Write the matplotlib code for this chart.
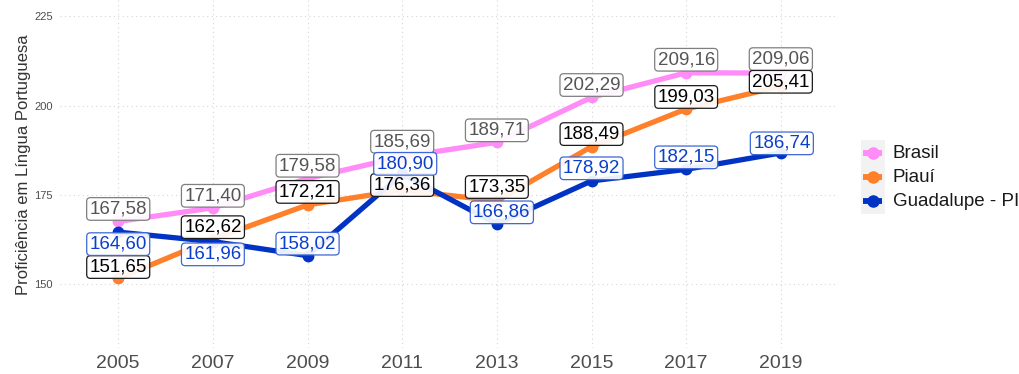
import matplotlib
matplotlib.use("Agg")
import matplotlib.pyplot as plt
from matplotlib.lines import Line2D
from matplotlib.patches import Rectangle

plt.rcParams['font.family'] = ['Liberation Sans', 'DejaVu Sans']

anos = [2005, 2007, 2009, 2011, 2013, 2015, 2017, 2019]
brasil = [167.58, 171.40, 179.58, 185.69, 189.71, 202.29, 209.16, 209.06]
piaui = [151.65, 162.62, 172.21, 176.36, 173.35, 188.49, 199.03, 205.41]
guadalupe = [164.60, 161.96, 158.02, 180.90, 166.86, 178.92, 182.15, 186.74]
nomes = ["Brasil", "Piauí", "Guadalupe - PI"]

# deslocamento vertical dos rótulos (pixels, positivo = acima do ponto)
desloc_y = [
    [12.5, 12, 12.8, 15, 12, 12.3, 13, 14],
    [11.4, 12, 13, 5, 13.8, 12.6, 12, 4.4],
    [-12, -12.8, 12, 10, 11.7, 12.6, 12, 9.6],
]
desloc_x = [
    [0] * 8,
    [0] * 8,
    [0, 0, 0, 3, 5, 0, 0, 1],
]

cores_linha = ["#FF8CF7", "#FF7F2A", "#0033C4"]
cores_texto = ["#555555", "#000000", "#0A3FCC"]
cores_borda = ["#7F7F7F", "#1A1A1A", "#3D66D6"]

fig = plt.figure(figsize=(10.2, 3.74), dpi=100)
ax = fig.add_axes([60 / 1020, 26 / 374, 776.7 / 1020, 348 / 374])

series = [brasil, piaui, guadalupe]
for vals, cor in zip(series, cores_linha):
    ax.plot(anos, vals, color=cor, lw=3.8, solid_capstyle="round",
            marker="o", ms=7.5, zorder=3)

for vals, dys, dxs, ct, cb in zip(series, desloc_y, desloc_x,
                                  cores_texto, cores_borda):
    for ano, v, dy, dx in zip(anos, vals, dys, dxs):
        rotulo = f"{v:.2f}".replace(".", ",")
        ax.annotate(rotulo, (ano, v), xytext=(dx * 0.72, dy * 0.72),
                    textcoords="offset points", ha="center", va="center",
                    fontsize=13.5, color=ct, zorder=5,
                    bbox=dict(boxstyle="round,pad=0.15,rounding_size=0.2",
                              fc=(1, 1, 1, 0.92), ec=cb, lw=0.9))

ax.set_xlim(2003.77, 2020.18)
ax.set_ylim(132.2, 229.5)
ax.set_xticks(anos)
ax.set_yticks([150, 175, 200, 225])
ax.grid(True, color="#D6D6D6", ls=(0, (1, 3)), lw=0.8)
ax.set_axisbelow(True)
for s in ax.spines.values():
    s.set_visible(False)
ax.tick_params(axis="x", length=0, labelsize=14, labelcolor="#4D4D4D", pad=5)
ax.tick_params(axis="y", length=0, labelsize=8, labelcolor="#4D4D4D", pad=5)
ax.set_ylabel("Proficiência em Língua Portuguesa", fontsize=12,
              color="#333333")
ax.yaxis.set_label_coords(-0.037, 0.526)

# legenda desenhada na figura
fig.patches.append(Rectangle((860.7 / 1020, 1 - 214 / 374), 24.3 / 1020,
                             74 / 374, transform=fig.transFigure,
                             fc="#F2F2F2", ec="none"))
for i, (nome, cor) in enumerate(zip(nomes, cores_linha)):
    yk = 1 - (153 + i * 24) / 374
    fig.lines.append(Line2D([863 / 1020, 882.5 / 1020], [yk, yk],
                            transform=fig.transFigure, color=cor, lw=4.2,
                            marker="", solid_capstyle="butt"))
    fig.lines.append(Line2D([872.8 / 1020], [yk], transform=fig.transFigure,
                            color=cor, marker="o", ms=8, ls=""))
    fig.text(893 / 1020, yk, nome, fontsize=13.5, va="center", ha="left",
             color="#1A1A1A")

fig.savefig("out.png", dpi=100)
